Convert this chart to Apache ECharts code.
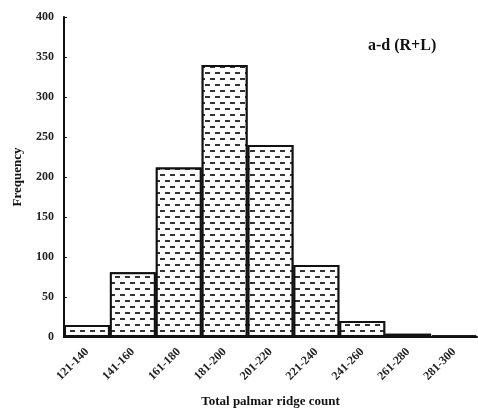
<!DOCTYPE html>
<html>
<head>
<meta charset="utf-8">
<script src="https://cdn.jsdelivr.net/npm/echarts@6/dist/echarts.min.js"></script>
<style>
  html, body { margin: 0; padding: 0; background: #fff; }
  #chart { width: 478px; height: 410px; }
</style>
</head>
<body>
<div id="chart"></div>
<script>
// ridge count classes and their frequencies
const categories = ['121-140', '141-160', '161-180', '181-200', '201-220', '221-240', '241-260', '261-280', '281-300'];
const frequency = [15, 81, 212, 340, 240, 90, 20, 4, 2];

const serif = '"Liberation Serif", "DejaVu Serif", serif';

const myChart = echarts.init(document.getElementById('chart'));

const option = {
  animation: false,
  title: {
    text: 'a-d (R+L)',
    left: 363,
    top: 33,
    textStyle: { fontFamily: serif, fontWeight: 'bold', fontSize: 16, color: '#111' }
  },
  grid: {
    left: 64,
    right: 1,
    top: 17,
    bottom: 73,
    containLabel: false,
    outerBoundsMode: 'none'
  },
  xAxis: {
    type: 'category',
    data: categories,
    boundaryGap: true,
    name: 'Total palmar ridge count',
    nameLocation: 'middle',
    nameGap: 58,
    nameTextStyle: { fontFamily: serif, fontWeight: 'bold', fontSize: 13, color: '#111' },
    axisLine: { lineStyle: { color: '#111', width: 2 } },
    axisTick: { show: false },
    axisLabel: {
      rotate: 45,
      interval: 0,
      margin: 13,
      fontFamily: serif,
      fontWeight: 'bold',
      fontSize: 12,
      color: '#222'
    }
  },
  yAxis: {
    type: 'value',
    min: 0,
    max: 400,
    interval: 50,
    name: 'Frequency',
    nameLocation: 'middle',
    nameGap: 40,
    nameTextStyle: { fontFamily: serif, fontWeight: 'bold', fontSize: 13, color: '#111' },
    axisLine: { show: true, lineStyle: { color: '#111', width: 2 } },
    axisTick: { show: true, inside: true, length: 3, lineStyle: { color: '#111' } },
    splitLine: { show: false },
    axisLabel: {
      margin: 10,
      fontFamily: serif,
      fontWeight: 'bold',
      fontSize: 12,
      color: '#222'
    }
  },
  series: [{
    type: 'bar',
    data: frequency,
    barCategoryGap: 0,
    itemStyle: {
      color: '#fff',
      borderColor: '#111',
      borderWidth: 2,
      decal: {
        symbol: 'rect',
        symbolSize: 1,
        color: '#333',
        backgroundColor: '#fff',
        dashArrayX: [[5, 5], [0, 5, 5, 0]],
        dashArrayY: [2, 4],
        rotation: 0
      }
    }
  }]
};

myChart.setOption(option);
</script>
</body>
</html>
